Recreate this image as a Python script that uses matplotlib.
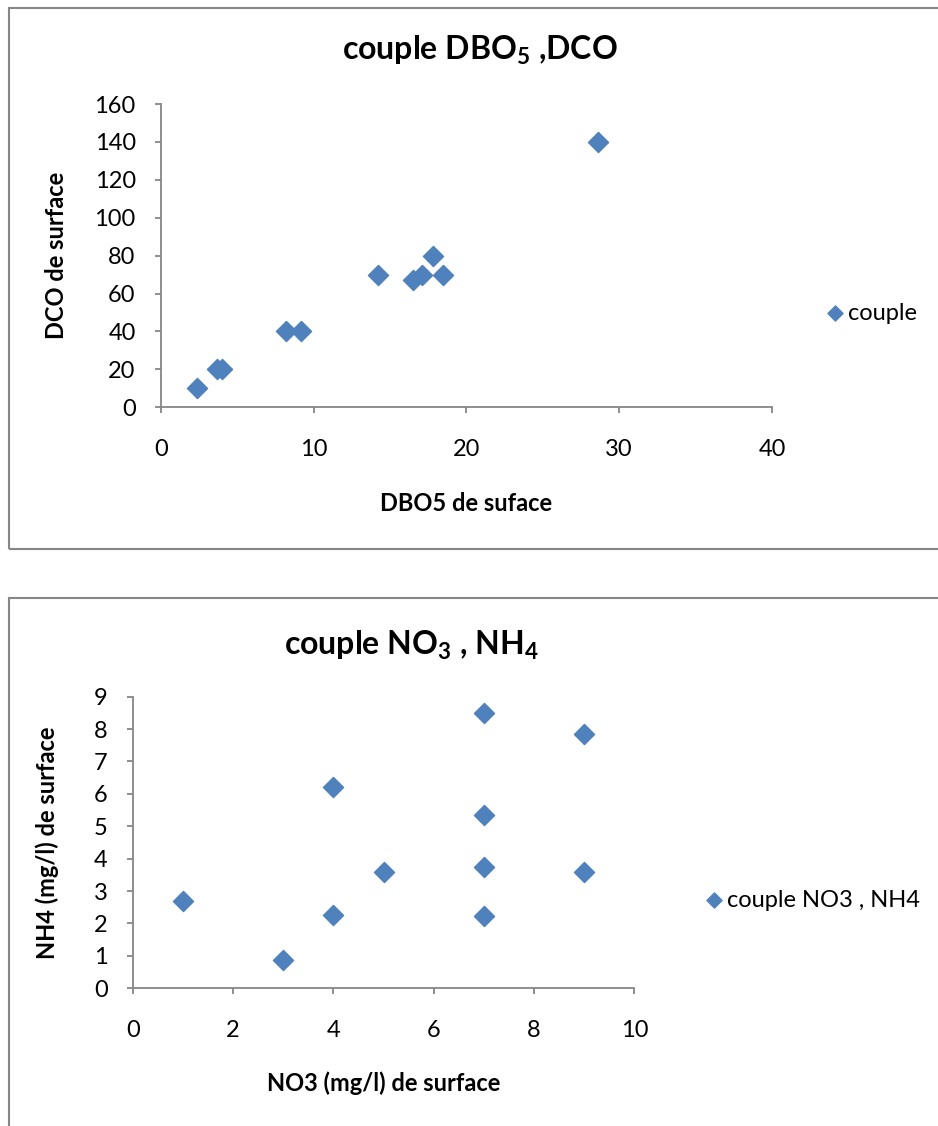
import matplotlib.pyplot as plt
from matplotlib.patches import Rectangle

plt.rcParams['font.family'] = ['Lato', 'DejaVu Sans']

# couple DBO5 / DCO
dbo5 = [2.4, 3.7, 4.0, 8.2, 9.2, 14.2, 16.5, 17.1, 17.8, 18.5, 28.6]
dco = [10, 20, 20, 40, 40, 70, 67, 70, 80, 70, 140]

# couple NO3 / NH4
no3 = [1, 3, 4, 4, 5, 7, 7, 7, 7, 9, 9]
nh4 = [2.7, 0.87, 6.2, 2.25, 3.6, 8.5, 5.35, 3.75, 2.23, 7.85, 3.6]

blue = '#4F81BD'
grey = '#868686'

fig = plt.figure(figsize=(9.38, 11.26), dpi=100)

# chart frames
fig.patches.append(Rectangle((0.0096, 0.5124), 1.2, 0.4805, transform=fig.transFigure,
                             fill=False, edgecolor=grey, lw=1.5))
fig.patches.append(Rectangle((0.0096, -0.2), 1.2, 0.6689, transform=fig.transFigure,
                             fill=False, edgecolor=grey, lw=1.5))


def style(ax):
    for s in ['top', 'right']:
        ax.spines[s].set_visible(False)
    for s in ['left', 'bottom']:
        ax.spines[s].set_color(grey)
        ax.spines[s].set_linewidth(1.3)
    ax.tick_params(axis='both', direction='out', length=4, width=1.3, color=grey,
                   labelsize=17)
    ax.tick_params(axis='x', pad=19)
    ax.tick_params(axis='y', pad=14)


ax1 = fig.add_axes([0.1713, 0.6383, 0.6517, 0.2693])
ax1.scatter(dbo5, dco, marker='D', s=105, color=blue, label='couple', zorder=3)
ax1.set_xlim(0, 40)
ax1.set_ylim(0, 160)
ax1.set_xticks(range(0, 41, 10))
ax1.set_yticks(range(0, 161, 20))
style(ax1)
ax1.set_xlabel('DBO5 de suface', fontsize=17, fontweight='bold', labelpad=23)
ax1.set_ylabel('DCO de surface', fontsize=17, fontweight='bold')
ax1.yaxis.set_label_coords(-0.152, 0.5)
fig.text(0.512, 0.955, r'couple DBO$_\mathregular{5}$ ,DCO', ha='center', va='center',
         fontsize=23, fontweight='bold')
ax1.legend(loc='center left', bbox_to_anchor=(0.879, 0.722), bbox_transform=fig.transFigure,
           frameon=False, fontsize=17, handlelength=0.9, handletextpad=0.1,
           borderpad=0, borderaxespad=0, markerscale=0.75)

ax2 = fig.add_axes([0.1415, 0.1223, 0.5348, 0.2590])
ax2.scatter(no3, nh4, marker='D', s=105, color=blue, label='couple NO3 , NH4', zorder=3)
ax2.set_xlim(0, 10)
ax2.set_ylim(0, 9)
ax2.set_xticks(range(0, 11, 2))
ax2.set_yticks(range(0, 10))
style(ax2)
ax2.set_xlabel('NO3 (mg/l) de surface', fontsize=17, fontweight='bold', labelpad=22)
ax2.set_ylabel('NH4 (mg/l) de surface', fontsize=17, fontweight='bold')
ax2.yaxis.set_label_coords(-0.147, 0.5)
fig.text(0.438, 0.427, r'couple NO$_\mathregular{3}$ , NH$_\mathregular{4}$', ha='center',
         va='center', fontsize=23, fontweight='bold')
ax2.legend(loc='center left', bbox_to_anchor=(0.750, 0.2007), bbox_transform=fig.transFigure,
           frameon=False, fontsize=17, handlelength=0.9, handletextpad=0.1,
           borderpad=0, borderaxespad=0, markerscale=0.75)

fig.savefig('out.png', dpi=100)
